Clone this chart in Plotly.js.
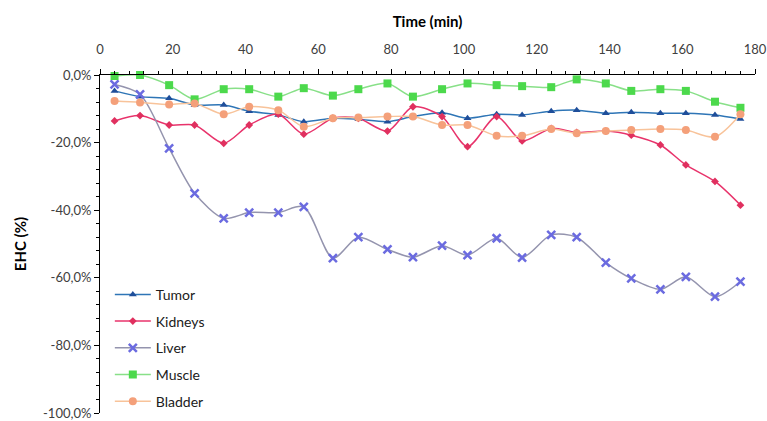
<!DOCTYPE html>
<html><head><meta charset="utf-8">
<script src="https://cdn.plot.ly/plotly-3.0.1.min.js"></script>
<style>html,body{margin:0;padding:0;background:#fff}#chart{width:767px;height:421px}</style>
</head><body><div id="chart"></div>
<script>
const timeMin = [4,11,19,26,34,41,49,56,64,71,79,86,94,101,109,116,124,131,139,146,154,161,169,176];
const tumor   = [-4.7,-6.4,-6.9,-8.9,-8.9,-10.7,-11.8,-13.8,-12.8,-13.1,-13.8,-12.3,-11.2,-12.8,-11.6,-11.8,-10.7,-10.4,-11.3,-11.0,-11.3,-11.3,-11.8,-13.0];
const kidneys = [-13.6,-12.0,-14.8,-14.8,-20.2,-14.8,-11.6,-17.5,-12.8,-12.8,-16.6,-9.4,-12.3,-21.2,-12.3,-19.5,-15.8,-17.0,-16.6,-17.8,-20.7,-26.6,-31.5,-38.5];
const liver   = [-2.8,-5.7,-21.7,-35.0,-42.4,-40.7,-40.7,-39.0,-54.2,-48.0,-51.6,-53.9,-50.5,-53.3,-48.3,-54.0,-47.3,-48.0,-55.5,-60.2,-63.4,-59.7,-65.6,-61.1];
const muscle  = [-0.3,0,-3.0,-7.2,-4.2,-4.2,-6.4,-3.9,-6.1,-4.2,-2.5,-6.4,-4.2,-2.5,-3.0,-3.3,-3.6,-1.3,-2.5,-4.7,-4.2,-4.7,-7.9,-9.7];
const bladder = [-7.7,-8.1,-8.7,-8.4,-11.6,-9.4,-10.4,-15.3,-12.8,-12.6,-12.3,-12.3,-14.8,-14.8,-18.0,-18.0,-16.0,-17.2,-16.6,-16.3,-16.0,-16.3,-18.3,-11.6];
const xTickVals = [0,20,40,60,80,100,120,140,160,180];
const yTickVals = [0,-20,-40,-60,-80,-100];
const yTickText = ['0,0%','-20,0%','-40,0%','-60,0%','-80,0%','-100,0%'];

function tr(name, y, lineColor, mColor, symbol, size){
  return {x: timeMin, y: y, name: name, legendgroup: name, type:'scatter', mode:'lines+markers',
    line:{color: lineColor, width:1.5, shape:'spline', smoothing:0.8},
    marker:{color: mColor, symbol: symbol, size: size, line:{width:0}},
    cliponaxis:false};
}
const data = [
  tr('Tumor', tumor, '#2E75B6', '#1F4E9A', 'triangle-up', 7),
  tr('Kidneys', kidneys, '#E8336B', '#E0305F', 'diamond', 6),
  tr('Liver', liver, '#9494AE', '#6B6BE0', 'x-thin', 8),
  tr('Muscle', muscle, '#88E088', '#4CD94C', 'square', 8),
  tr('Bladder', bladder, '#F8C39A', '#F4A07A', 'circle', 8)
];
data[2].marker.line = {width:2.5, color:'#6B6BE0'};

const layout = {
  width:767, height:421,
  margin:{l:100, r:12, t:75, b:8, autoexpand:false},
  paper_bgcolor:'#fff', plot_bgcolor:'#fff',
  font:{family:'Lato, "Open Sans", sans-serif', size:13, color:'#404040'},
  showlegend:true,
  legend:{x:0.015, y:0.397, xanchor:'left', yanchor:'top', bgcolor:'rgba(0,0,0,0)',
    font:{size:14, color:'#202020'}, traceorder:'grouped', tracegroupgap:5.5, itemwidth:36},
  xaxis:{range:[0,180], side:'top', tickvals:xTickVals, showline:true, linecolor:'#000', linewidth:1,
    ticks:'outside', ticklen:5, tickcolor:'#000', showgrid:false, zeroline:false,
    ticklabelstandoff:10,
    minor:{dtick:4, tick0:0, ticks:'outside', ticklen:3, tickcolor:'#000', showgrid:false},
    tickfont:{size:13, color:'#404040'},
    title:{text:'<b>Time (min)</b>', font:{size:15, color:'#000'}, standoff:9}},
  yaxis:{range:[-100,0], tickvals:yTickVals, ticktext:yTickText, showline:true, linecolor:'#000', linewidth:1,
    ticks:'outside', ticklen:5, tickcolor:'#000', showgrid:false, zeroline:false,
    minor:{dtick:4, tick0:0, ticks:'outside', ticklen:3, tickcolor:'#000', showgrid:false},
    tickfont:{size:13, color:'#404040'},
    title:{text:'<b>EHC (%)</b>', font:{size:15, color:'#000'}, standoff:12}}
};
Plotly.newPlot('chart', data, layout, {displayModeBar:false, staticPlot:true});
</script></body></html>
